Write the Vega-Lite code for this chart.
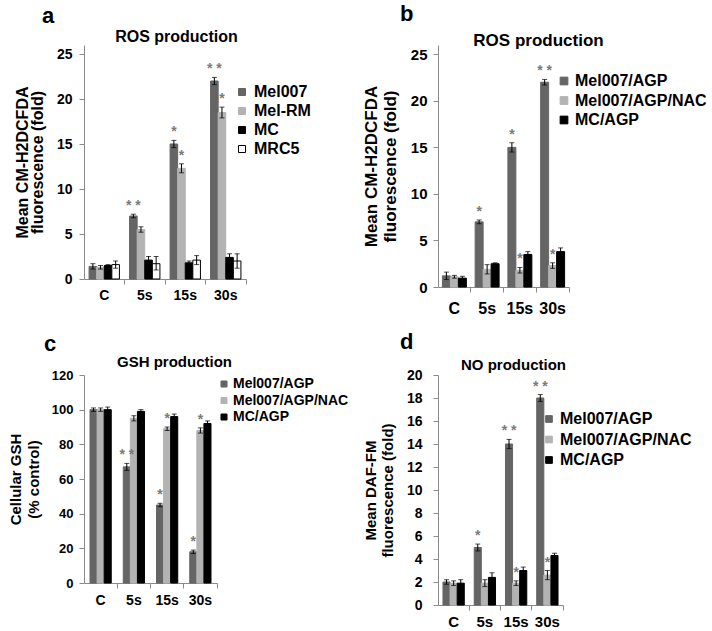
{
  "$schema": "https://vega.github.io/schema/vega-lite/v6.json",
  "bounds": "flush",
  "columns": 2,
  "spacing": {"row": 88, "column": 192},
  "padding": {"left": 8, "top": 3, "right": 0, "bottom": 0},
  "datasets": {
    "a": [
      {"grp": "C", "s": "Mel007", "v": 1.4, "lo": 1.1, "hi": 1.7, "sig": ""},
      {"grp": "C", "s": "Mel-RM", "v": 1.3, "lo": 1.1, "hi": 1.5, "sig": ""},
      {"grp": "C", "s": "MC", "v": 1.5, "lo": 1.4, "hi": 1.6, "sig": ""},
      {"grp": "C", "s": "MRC5", "v": 1.6, "lo": 1.2, "hi": 2.0, "sig": ""},
      {"grp": "5s", "s": "Mel007", "v": 7.0, "lo": 6.8, "hi": 7.2, "sig": "* *"},
      {"grp": "5s", "s": "Mel-RM", "v": 5.5, "lo": 5.2, "hi": 5.8, "sig": ""},
      {"grp": "5s", "s": "MC", "v": 2.1, "lo": 1.7, "hi": 2.5, "sig": ""},
      {"grp": "5s", "s": "MRC5", "v": 1.7, "lo": 1.0, "hi": 2.5, "sig": ""},
      {"grp": "15s", "s": "Mel007", "v": 15.0, "lo": 14.6, "hi": 15.4, "sig": "*"},
      {"grp": "15s", "s": "Mel-RM", "v": 12.3, "lo": 11.8, "hi": 12.8, "sig": "*"},
      {"grp": "15s", "s": "MC", "v": 1.8, "lo": 1.6, "hi": 2.0, "sig": ""},
      {"grp": "15s", "s": "MRC5", "v": 2.1, "lo": 1.6, "hi": 2.6, "sig": ""},
      {"grp": "30s", "s": "Mel007", "v": 22.0, "lo": 21.6, "hi": 22.4, "sig": "* *"},
      {"grp": "30s", "s": "Mel-RM", "v": 18.5, "lo": 17.9, "hi": 19.1, "sig": "*"},
      {"grp": "30s", "s": "MC", "v": 2.4, "lo": 2.0, "hi": 2.8, "sig": ""},
      {"grp": "30s", "s": "MRC5", "v": 2.0, "lo": 1.2, "hi": 2.8, "sig": ""}
    ],
    "b": [
      {"grp": "C", "s": "Mel007/AGP", "v": 1.2, "lo": 0.8, "hi": 1.6, "sig": ""},
      {"grp": "C", "s": "Mel007/AGP/NAC", "v": 1.1, "lo": 0.95, "hi": 1.25, "sig": ""},
      {"grp": "C", "s": "MC/AGP", "v": 0.95, "lo": 0.75, "hi": 1.15, "sig": ""},
      {"grp": "5s", "s": "Mel007/AGP", "v": 7.0, "lo": 6.8, "hi": 7.2, "sig": "*"},
      {"grp": "5s", "s": "Mel007/AGP/NAC", "v": 1.9, "lo": 1.4, "hi": 2.4, "sig": ""},
      {"grp": "5s", "s": "MC/AGP", "v": 2.5, "lo": 2.4, "hi": 2.6, "sig": ""},
      {"grp": "15s", "s": "Mel007/AGP", "v": 15.0, "lo": 14.5, "hi": 15.5, "sig": "*"},
      {"grp": "15s", "s": "Mel007/AGP/NAC", "v": 1.8, "lo": 1.5, "hi": 2.1, "sig": "*"},
      {"grp": "15s", "s": "MC/AGP", "v": 3.5, "lo": 3.2, "hi": 3.8, "sig": ""},
      {"grp": "30s", "s": "Mel007/AGP", "v": 22.0, "lo": 21.7, "hi": 22.3, "sig": "* *"},
      {"grp": "30s", "s": "Mel007/AGP/NAC", "v": 2.3, "lo": 2.0, "hi": 2.6, "sig": "*"},
      {"grp": "30s", "s": "MC/AGP", "v": 3.8, "lo": 3.4, "hi": 4.2, "sig": ""}
    ],
    "c": [
      {"grp": "C", "s": "Mel007/AGP", "v": 100, "lo": 99, "hi": 101, "sig": ""},
      {"grp": "C", "s": "Mel007/AGP/NAC", "v": 100, "lo": 99, "hi": 101, "sig": ""},
      {"grp": "C", "s": "MC/AGP", "v": 100, "lo": 98.5, "hi": 101.5, "sig": ""},
      {"grp": "5s", "s": "Mel007/AGP", "v": 67, "lo": 65, "hi": 69, "sig": "* *"},
      {"grp": "5s", "s": "Mel007/AGP/NAC", "v": 95, "lo": 93.5, "hi": 96.5, "sig": ""},
      {"grp": "5s", "s": "MC/AGP", "v": 99, "lo": 98, "hi": 100, "sig": ""},
      {"grp": "15s", "s": "Mel007/AGP", "v": 45, "lo": 44, "hi": 46, "sig": "*"},
      {"grp": "15s", "s": "Mel007/AGP/NAC", "v": 89, "lo": 88, "hi": 90, "sig": "*"},
      {"grp": "15s", "s": "MC/AGP", "v": 96, "lo": 94.5, "hi": 97.5, "sig": ""},
      {"grp": "30s", "s": "Mel007/AGP", "v": 18, "lo": 17, "hi": 19, "sig": "*"},
      {"grp": "30s", "s": "Mel007/AGP/NAC", "v": 88, "lo": 86.5, "hi": 89.5, "sig": "*"},
      {"grp": "30s", "s": "MC/AGP", "v": 92, "lo": 90.5, "hi": 93.5, "sig": ""}
    ],
    "d": [
      {"grp": "C", "s": "Mel007/AGP", "v": 2.0, "lo": 1.8, "hi": 2.2, "sig": ""},
      {"grp": "C", "s": "Mel007/AGP/NAC", "v": 1.9, "lo": 1.7, "hi": 2.1, "sig": ""},
      {"grp": "C", "s": "MC/AGP", "v": 1.9, "lo": 1.6, "hi": 2.2, "sig": ""},
      {"grp": "5s", "s": "Mel007/AGP", "v": 5.0, "lo": 4.7, "hi": 5.3, "sig": "*"},
      {"grp": "5s", "s": "Mel007/AGP/NAC", "v": 1.9, "lo": 1.6, "hi": 2.2, "sig": ""},
      {"grp": "5s", "s": "MC/AGP", "v": 2.4, "lo": 2.0, "hi": 2.8, "sig": ""},
      {"grp": "15s", "s": "Mel007/AGP", "v": 14.0, "lo": 13.6, "hi": 14.4, "sig": "* *"},
      {"grp": "15s", "s": "Mel007/AGP/NAC", "v": 1.9, "lo": 1.7, "hi": 2.1, "sig": "*"},
      {"grp": "15s", "s": "MC/AGP", "v": 3.0, "lo": 2.7, "hi": 3.3, "sig": ""},
      {"grp": "30s", "s": "Mel007/AGP", "v": 18.0, "lo": 17.7, "hi": 18.3, "sig": "* *"},
      {"grp": "30s", "s": "Mel007/AGP/NAC", "v": 2.6, "lo": 2.2, "hi": 3.0, "sig": "*"},
      {"grp": "30s", "s": "MC/AGP", "v": 4.3, "lo": 4.1, "hi": 4.5, "sig": ""}
    ]
  },
  "concat": [
    {
      "data": {"name": "a"},
      "width": 162, "height": 234,
      "title": {"text": "a", "anchor": "start", "frame": "group", "dx": -42, "fontSize": 22, "offset": 0},
      "layer": [
        {
          "mark": {"type": "bar", "strokeWidth": 1},
          "encoding": {
            "x": {"field": "grp", "type": "nominal", "sort": ["C", "5s", "15s", "30s"], "scale": {"paddingInner": 0, "paddingOuter": 0}, "axis": {"orient": "bottom", "title": null, "ticks": false, "domain": true, "labelAngle": 0, "labelFontSize": 14, "labelPadding": 9}},
            "xOffset": {"field": "s", "type": "nominal", "sort": ["Mel007", "Mel-RM", "MC", "MRC5"], "scale": {"paddingInner": 0, "paddingOuter": 0.667}},
            "y": {"field": "v", "type": "quantitative", "scale": {"domain": [0, 25]}, "axis": {"values": [0, 5, 10, 15, 20, 25], "tickCount": 30, "format": "d", "labelOverlap": false, "title": ["Mean CM-H2DCFDA", "fluorescence (fold)"], "titleFontSize": 16, "titleLineHeight": 15, "labelFontSize": 14, "labelPadding": 7, "titlePadding": 11}},
            "fill": {"field": "s", "type": "nominal", "scale": {"domain": ["Mel007", "Mel-RM", "MC", "MRC5"], "range": ["#656565", "#b3b3b3", "#000000", "#ffffff"]}, "legend": {"orient": "none", "legendX": 150, "legendY": 39, "title": null, "labelFontSize": 16, "symbolSize": 49, "rowPadding": 3, "labelOffset": 4}},
            "stroke": {"field": "s", "type": "nominal", "scale": {"domain": ["Mel007", "Mel-RM", "MC", "MRC5"], "range": ["#656565", "#b3b3b3", "#000000", "#000000"]}, "legend": {"orient": "none", "legendX": 150, "legendY": 39, "title": null, "labelFontSize": 16, "symbolSize": 49, "rowPadding": 3, "labelOffset": 4}}
          }
        },
        {
          "mark": {"type": "rule", "color": "black", "strokeWidth": 1},
          "encoding": {
            "x": {"field": "grp", "type": "nominal", "sort": ["C", "5s", "15s", "30s"], "axis": {"orient": "bottom", "title": null, "labels": false, "domain": false, "ticks": true, "tickSize": 5, "bandPosition": 1}},
            "xOffset": {"field": "s", "type": "nominal", "sort": ["Mel007", "Mel-RM", "MC", "MRC5"]},
            "y": {"field": "lo", "type": "quantitative"},
            "y2": {"field": "hi"}
          }
        },
        {
          "mark": {"type": "tick", "color": "black", "thickness": 1, "size": 5},
          "encoding": {
            "x": {"field": "grp", "type": "nominal", "sort": ["C", "5s", "15s", "30s"], "axis": null},
            "xOffset": {"field": "s", "type": "nominal", "sort": ["Mel007", "Mel-RM", "MC", "MRC5"]},
            "y": {"field": "lo", "type": "quantitative"}
          }
        },
        {
          "mark": {"type": "tick", "color": "black", "thickness": 1, "size": 5},
          "encoding": {
            "x": {"field": "grp", "type": "nominal", "sort": ["C", "5s", "15s", "30s"], "axis": null},
            "xOffset": {"field": "s", "type": "nominal", "sort": ["Mel007", "Mel-RM", "MC", "MRC5"]},
            "y": {"field": "hi", "type": "quantitative"}
          }
        },
        {
          "mark": {"type": "text", "color": "#7a7a7a", "fontSize": 14, "fontWeight": "bold", "dy": -8},
          "encoding": {
            "x": {"field": "grp", "type": "nominal", "sort": ["C", "5s", "15s", "30s"], "axis": {"orient": "top", "title": "ROS production", "labels": false, "ticks": false, "domain": false, "titleFontSize": 16, "titleX": 92, "titleY": -4, "titleBaseline": "alphabetic"}},
            "xOffset": {"field": "s", "type": "nominal", "sort": ["Mel007", "Mel-RM", "MC", "MRC5"]},
            "y": {"field": "hi", "type": "quantitative"},
            "text": {"field": "sig"}
          }
        }
      ],
      "resolve": {"axis": {"x": "independent"}}
    },
    {
      "data": {"name": "b"},
      "width": 131, "height": 242,
      "title": {"text": "b", "anchor": "start", "frame": "group", "dx": -38, "fontSize": 22, "offset": 5},
      "layer": [
        {
          "mark": {"type": "bar", "strokeWidth": 1},
          "encoding": {
            "x": {"field": "grp", "type": "nominal", "sort": ["C", "5s", "15s", "30s"], "scale": {"paddingInner": 0, "paddingOuter": 0}, "axis": {"orient": "bottom", "title": null, "ticks": false, "domain": true, "labelAngle": 0, "labelFontSize": 16, "labelPadding": 13}},
            "xOffset": {"field": "s", "type": "nominal", "sort": ["Mel007/AGP", "Mel007/AGP/NAC", "MC/AGP"], "scale": {"paddingInner": 0, "paddingOuter": 0.55}},
            "y": {"field": "v", "type": "quantitative", "scale": {"domain": [0, 25]}, "axis": {"values": [0, 5, 10, 15, 20, 25], "tickCount": 30, "format": "d", "labelOverlap": false, "title": ["Mean CM-H2DCFDA", "fluorescence (fold)"], "titleFontSize": 17, "titleLineHeight": 19, "labelFontSize": 15, "labelPadding": 6, "titlePadding": 11}},
            "fill": {"field": "s", "type": "nominal", "scale": {"domain": ["Mel007/AGP", "Mel007/AGP/NAC", "MC/AGP"], "range": ["#656565", "#b3b3b3", "#000000"]}, "legend": {"orient": "none", "legendX": 118, "legendY": 28, "title": null, "labelFontSize": 16, "symbolSize": 60, "rowPadding": 3.5, "labelOffset": 3}},
            "stroke": {"field": "s", "type": "nominal", "scale": {"domain": ["Mel007/AGP", "Mel007/AGP/NAC", "MC/AGP"], "range": ["#656565", "#b3b3b3", "#000000"]}, "legend": {"orient": "none", "legendX": 118, "legendY": 28, "title": null, "labelFontSize": 16, "symbolSize": 60, "rowPadding": 3.5, "labelOffset": 3}}
          }
        },
        {
          "mark": {"type": "rule", "color": "black", "strokeWidth": 1},
          "encoding": {
            "x": {"field": "grp", "type": "nominal", "sort": ["C", "5s", "15s", "30s"], "axis": {"orient": "bottom", "title": null, "labels": false, "domain": false, "ticks": true, "tickSize": 5, "bandPosition": 1}},
            "xOffset": {"field": "s", "type": "nominal", "sort": ["Mel007/AGP", "Mel007/AGP/NAC", "MC/AGP"]},
            "y": {"field": "lo", "type": "quantitative"},
            "y2": {"field": "hi"}
          }
        },
        {
          "mark": {"type": "tick", "color": "black", "thickness": 1, "size": 5},
          "encoding": {
            "x": {"field": "grp", "type": "nominal", "sort": ["C", "5s", "15s", "30s"], "axis": null},
            "xOffset": {"field": "s", "type": "nominal", "sort": ["Mel007/AGP", "Mel007/AGP/NAC", "MC/AGP"]},
            "y": {"field": "lo", "type": "quantitative"}
          }
        },
        {
          "mark": {"type": "tick", "color": "black", "thickness": 1, "size": 5},
          "encoding": {
            "x": {"field": "grp", "type": "nominal", "sort": ["C", "5s", "15s", "30s"], "axis": null},
            "xOffset": {"field": "s", "type": "nominal", "sort": ["Mel007/AGP", "Mel007/AGP/NAC", "MC/AGP"]},
            "y": {"field": "hi", "type": "quantitative"}
          }
        },
        {
          "mark": {"type": "text", "color": "#7a7a7a", "fontSize": 14, "fontWeight": "bold", "dy": -8},
          "encoding": {
            "x": {"field": "grp", "type": "nominal", "sort": ["C", "5s", "15s", "30s"], "axis": {"orient": "top", "title": "ROS production", "labels": false, "ticks": false, "domain": false, "titleFontSize": 17, "titleX": 100, "titleY": 0, "titleBaseline": "alphabetic"}},
            "xOffset": {"field": "s", "type": "nominal", "sort": ["Mel007/AGP", "Mel007/AGP/NAC", "MC/AGP"]},
            "y": {"field": "hi", "type": "quantitative"},
            "text": {"field": "sig"}
          }
        }
      ],
      "resolve": {"axis": {"x": "independent"}}
    },
    {
      "data": {"name": "c"},
      "width": 133, "height": 208,
      "title": {"text": "c", "anchor": "start", "frame": "group", "dx": -40, "fontSize": 22, "offset": -2},
      "layer": [
        {
          "mark": {"type": "bar", "strokeWidth": 1},
          "encoding": {
            "x": {"field": "grp", "type": "nominal", "sort": ["C", "5s", "15s", "30s"], "scale": {"paddingInner": 0, "paddingOuter": 0}, "axis": {"orient": "bottom", "title": null, "ticks": false, "domain": true, "labelAngle": 0, "labelFontSize": 14, "labelPadding": 10}},
            "xOffset": {"field": "s", "type": "nominal", "sort": ["Mel007/AGP", "Mel007/AGP/NAC", "MC/AGP"], "scale": {"paddingInner": 0, "paddingOuter": 0.85}},
            "y": {"field": "v", "type": "quantitative", "scale": {"domain": [0, 120]}, "axis": {"values": [0, 20, 40, 60, 80, 100, 120], "tickCount": 30, "format": "d", "labelOverlap": false, "title": ["Cellular GSH", "(% control)"], "titleFontSize": 15, "titleLineHeight": 18, "labelFontSize": 13, "labelPadding": 6, "titlePadding": 10}},
            "fill": {"field": "s", "type": "nominal", "scale": {"domain": ["Mel007/AGP", "Mel007/AGP/NAC", "MC/AGP"], "range": ["#656565", "#b3b3b3", "#000000"]}, "legend": {"orient": "none", "legendX": 133, "legendY": 2, "title": null, "labelFontSize": 14, "symbolSize": 36, "rowPadding": 2.5, "labelOffset": 2}},
            "stroke": {"field": "s", "type": "nominal", "scale": {"domain": ["Mel007/AGP", "Mel007/AGP/NAC", "MC/AGP"], "range": ["#656565", "#b3b3b3", "#000000"]}, "legend": {"orient": "none", "legendX": 133, "legendY": 2, "title": null, "labelFontSize": 14, "symbolSize": 36, "rowPadding": 2.5, "labelOffset": 2}}
          }
        },
        {
          "mark": {"type": "rule", "color": "black", "strokeWidth": 1},
          "encoding": {
            "x": {"field": "grp", "type": "nominal", "sort": ["C", "5s", "15s", "30s"], "axis": {"orient": "bottom", "title": null, "labels": false, "domain": false, "ticks": true, "tickSize": 5, "bandPosition": 1}},
            "xOffset": {"field": "s", "type": "nominal", "sort": ["Mel007/AGP", "Mel007/AGP/NAC", "MC/AGP"]},
            "y": {"field": "lo", "type": "quantitative"},
            "y2": {"field": "hi"}
          }
        },
        {
          "mark": {"type": "tick", "color": "black", "thickness": 1, "size": 5},
          "encoding": {
            "x": {"field": "grp", "type": "nominal", "sort": ["C", "5s", "15s", "30s"], "axis": null},
            "xOffset": {"field": "s", "type": "nominal", "sort": ["Mel007/AGP", "Mel007/AGP/NAC", "MC/AGP"]},
            "y": {"field": "lo", "type": "quantitative"}
          }
        },
        {
          "mark": {"type": "tick", "color": "black", "thickness": 1, "size": 5},
          "encoding": {
            "x": {"field": "grp", "type": "nominal", "sort": ["C", "5s", "15s", "30s"], "axis": null},
            "xOffset": {"field": "s", "type": "nominal", "sort": ["Mel007/AGP", "Mel007/AGP/NAC", "MC/AGP"]},
            "y": {"field": "hi", "type": "quantitative"}
          }
        },
        {
          "mark": {"type": "text", "color": "#7a7a7a", "fontSize": 14, "fontWeight": "bold", "dy": -8},
          "encoding": {
            "x": {"field": "grp", "type": "nominal", "sort": ["C", "5s", "15s", "30s"], "axis": {"orient": "top", "title": "GSH production", "labels": false, "ticks": false, "domain": false, "titleFontSize": 15, "titleX": 90, "titleY": -9, "titleBaseline": "alphabetic"}},
            "xOffset": {"field": "s", "type": "nominal", "sort": ["Mel007/AGP", "Mel007/AGP/NAC", "MC/AGP"]},
            "y": {"field": "hi", "type": "quantitative"},
            "text": {"field": "sig"}
          }
        }
      ],
      "resolve": {"axis": {"x": "independent"}}
    },
    {
      "data": {"name": "d"},
      "width": 125, "height": 230,
      "title": {"text": "d", "anchor": "start", "frame": "group", "dx": -38, "fontSize": 22, "offset": 3},
      "layer": [
        {
          "mark": {"type": "bar", "strokeWidth": 1},
          "encoding": {
            "x": {"field": "grp", "type": "nominal", "sort": ["C", "5s", "15s", "30s"], "scale": {"paddingInner": 0, "paddingOuter": 0}, "axis": {"orient": "bottom", "title": null, "ticks": false, "domain": true, "labelAngle": 0, "labelFontSize": 15, "labelPadding": 9}},
            "xOffset": {"field": "s", "type": "nominal", "sort": ["Mel007/AGP", "Mel007/AGP/NAC", "MC/AGP"], "scale": {"paddingInner": 0, "paddingOuter": 0.7}},
            "y": {"field": "v", "type": "quantitative", "scale": {"domain": [0, 20]}, "axis": {"values": [0, 2, 4, 6, 8, 10, 12, 14, 16, 18, 20], "tickCount": 30, "format": "d", "labelOverlap": false, "title": ["Mean DAF-FM", "fluorescence (fold)"], "titleFontSize": 15, "titleLineHeight": 17, "labelFontSize": 14, "labelPadding": 11, "titlePadding": 11}},
            "fill": {"field": "s", "type": "nominal", "scale": {"domain": ["Mel007/AGP", "Mel007/AGP/NAC", "MC/AGP"], "range": ["#656565", "#b3b3b3", "#000000"]}, "legend": {"orient": "none", "legendX": 103, "legendY": 36, "title": null, "labelFontSize": 16, "symbolSize": 45, "rowPadding": 4.5, "labelOffset": 3}},
            "stroke": {"field": "s", "type": "nominal", "scale": {"domain": ["Mel007/AGP", "Mel007/AGP/NAC", "MC/AGP"], "range": ["#656565", "#b3b3b3", "#000000"]}, "legend": {"orient": "none", "legendX": 103, "legendY": 36, "title": null, "labelFontSize": 16, "symbolSize": 45, "rowPadding": 4.5, "labelOffset": 3}}
          }
        },
        {
          "mark": {"type": "rule", "color": "black", "strokeWidth": 1},
          "encoding": {
            "x": {"field": "grp", "type": "nominal", "sort": ["C", "5s", "15s", "30s"], "axis": {"orient": "bottom", "title": null, "labels": false, "domain": false, "ticks": true, "tickSize": 5, "bandPosition": 1}},
            "xOffset": {"field": "s", "type": "nominal", "sort": ["Mel007/AGP", "Mel007/AGP/NAC", "MC/AGP"]},
            "y": {"field": "lo", "type": "quantitative"},
            "y2": {"field": "hi"}
          }
        },
        {
          "mark": {"type": "tick", "color": "black", "thickness": 1, "size": 5},
          "encoding": {
            "x": {"field": "grp", "type": "nominal", "sort": ["C", "5s", "15s", "30s"], "axis": null},
            "xOffset": {"field": "s", "type": "nominal", "sort": ["Mel007/AGP", "Mel007/AGP/NAC", "MC/AGP"]},
            "y": {"field": "lo", "type": "quantitative"}
          }
        },
        {
          "mark": {"type": "tick", "color": "black", "thickness": 1, "size": 5},
          "encoding": {
            "x": {"field": "grp", "type": "nominal", "sort": ["C", "5s", "15s", "30s"], "axis": null},
            "xOffset": {"field": "s", "type": "nominal", "sort": ["Mel007/AGP", "Mel007/AGP/NAC", "MC/AGP"]},
            "y": {"field": "hi", "type": "quantitative"}
          }
        },
        {
          "mark": {"type": "text", "color": "#7a7a7a", "fontSize": 14, "fontWeight": "bold", "dy": -8},
          "encoding": {
            "x": {"field": "grp", "type": "nominal", "sort": ["C", "5s", "15s", "30s"], "axis": {"orient": "top", "title": "NO production", "labels": false, "ticks": false, "domain": false, "titleFontSize": 15, "titleX": 75, "titleY": -6, "titleBaseline": "alphabetic"}},
            "xOffset": {"field": "s", "type": "nominal", "sort": ["Mel007/AGP", "Mel007/AGP/NAC", "MC/AGP"]},
            "y": {"field": "hi", "type": "quantitative"},
            "text": {"field": "sig"}
          }
        }
      ],
      "resolve": {"axis": {"x": "independent"}}
    }
  ],
  "resolve": {
    "scale": {"fill": "independent", "stroke": "independent", "xOffset": "independent"},
    "legend": {"fill": "independent", "stroke": "independent"}
  },
  "config": {
    "font": "Liberation Sans",
    "view": {"stroke": null},
    "axis": {"labelFont": "Liberation Sans", "titleFont": "Liberation Sans", "labelFontWeight": "bold", "labelColor": "#000000", "titleFontWeight": "bold", "titleColor": "#000000", "domainColor": "#8a8a8a", "tickColor": "#8a8a8a", "grid": false},
    "legend": {"labelFont": "Liberation Sans", "labelFontWeight": "bold", "labelColor": "#000000", "symbolType": "square", "padding": 0, "symbolStrokeWidth": 1, "symbolOpacity": 1},
    "title": {"font": "Liberation Sans", "fontWeight": "bold", "color": "#000000"}
  }
}
